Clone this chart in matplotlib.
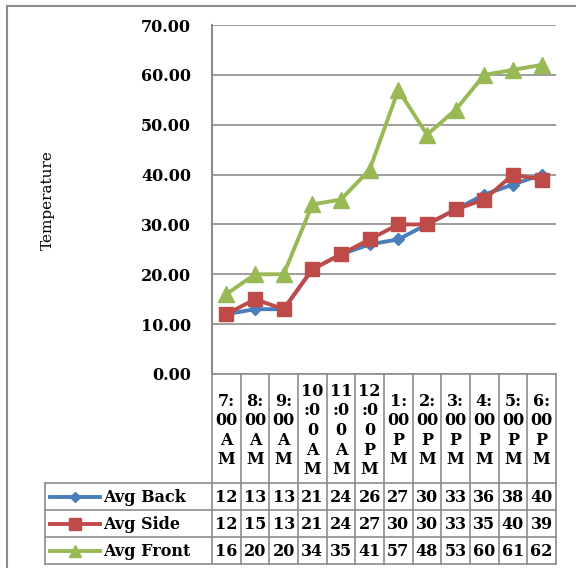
import numpy as np
import matplotlib
matplotlib.use('Agg')
import matplotlib.pyplot as plt
from matplotlib import transforms
from matplotlib.ticker import FormatStrFormatter

# Hourly readings
times = ['7:00 AM', '8:00 AM', '9:00 AM', '10:00 AM', '11:00 AM', '12:00 PM',
         '1:00 PM', '2:00 PM', '3:00 PM', '4:00 PM', '5:00 PM', '6:00 PM']
avg_back = [12, 13, 13, 21, 24, 26, 27, 30, 33, 36, 38, 40]
avg_side = [12, 15, 13, 21, 24, 27, 30, 30, 33, 35, 40, 39]
avg_front = [16, 20, 20, 34, 35, 41, 57, 48, 53, 60, 61, 62]

series = [
    ('Avg Back', avg_back, '#4A7EBB', 'D', 6),
    ('Avg Side', avg_side, '#BE4B48', 's', 10),
    ('Avg Front', avg_front, '#98B954', '^', 11),
]

plt.rcParams['font.family'] = ['DejaVu Serif']
plt.rcParams['font.weight'] = 'bold'
grey = '#8C8C8C'

W, H = 576, 568
fig = plt.figure(figsize=(W / 100, H / 100), dpi=100)
ax = fig.add_axes([212 / W, 1 - 374 / H, 344 / W, 349 / H])

x = np.arange(len(times))
zs = {'Avg Back': 3, 'Avg Side': 4, 'Avg Front': 2}
for name, vals, col, mk, ms in series:
    ax.plot(x, vals, color=col, lw=2.8, marker=mk, ms=ms,
            markeredgecolor=col, zorder=zs[name])

ax.set_xlim(-0.5, len(times) - 0.5)
ax.set_ylim(0, 70)
ax.set_yticks(np.arange(0, 71, 10))
ax.yaxis.set_major_formatter(FormatStrFormatter('%.2f'))
ax.set_xticks([])
ax.tick_params(axis='y', length=0, pad=15, labelsize=11.5)
ax.grid(axis='y', color=grey, lw=1.2)
ax.set_axisbelow(True)
for s in ['top', 'right', 'bottom']:
    ax.spines[s].set_visible(False)
ax.spines['left'].set_color(grey)
ax.spines['left'].set_linewidth(1.5)

fig.text(48 / W, 1 - 200 / H, 'Temperature', rotation=90, ha='center',
         va='center', fontsize=11, fontweight='normal')

# data table underneath, in pixel coordinates
tab = fig.add_axes([0, 0, 1, 1])
tab.set_xlim(0, W)
tab.set_ylim(H, 0)
tab.axis('off')

edges = [ax.transData.transform((k - 0.5, 0))[0] for k in range(len(times) + 1)]
head_top, head_bot = 374, 483
rows = [483, 510, 537, 564]
leg_left = 45

for e in edges:
    tab.plot([e, e], [head_top, rows[-1]], color=grey, lw=1.2)
tab.plot([edges[0], edges[-1]], [head_top, head_top], color=grey, lw=1.2)
for r in rows:
    tab.plot([leg_left, edges[-1]], [r, r], color=grey, lw=1.2)
tab.plot([leg_left, leg_left], [rows[0], rows[-1]], color=grey, lw=1.2)

colx = transforms.blended_transform_factory(ax.transData, tab.transData)


def wrap(label):
    t, p = label.split()
    return '\n'.join([t[i:i + 2] for i in range(0, len(t), 2)] + list(p))


for i, t in enumerate(times):
    tab.text(i, (head_top + head_bot) / 2 + 2, wrap(t), transform=colx,
             ha='center', va='center', fontsize=11.5, linespacing=1.2)

for j, (name, vals, col, mk, ms) in enumerate(series):
    yc = (rows[j] + rows[j + 1]) / 2
    tab.plot([50, 100], [yc, yc], color=col, lw=2.8)
    tab.plot([75], [yc], color=col, marker=mk, ms=ms * 0.8, markeredgecolor=col)
    tab.text(103, yc + 1, name, ha='left', va='center', fontsize=11.5)
    for i, v in enumerate(vals):
        tab.text(i, yc + 1, str(v), transform=colx, ha='center', va='center',
                 fontsize=11.5)

# outer chart frame
tab.plot([7, 7], [6, H], color=grey, lw=1.5)
tab.plot([7, W], [6, 6], color=grey, lw=1.5)

fig.savefig('out.png', dpi=100)
